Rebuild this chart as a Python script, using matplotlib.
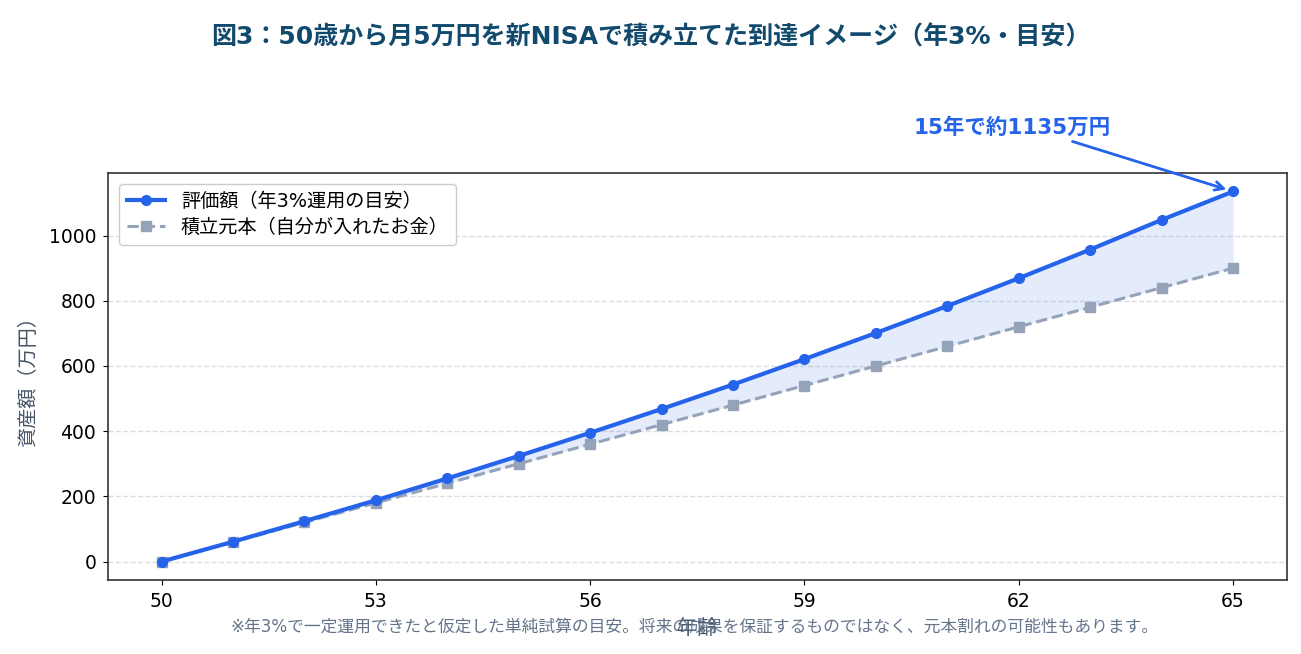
import matplotlib
matplotlib.use("Agg")
import matplotlib.pyplot as plt

# DejaVu for latin/digits (wide, like the reference), Noto CJK for Japanese
plt.rcParams['font.family'] = ['DejaVu Sans', 'Noto Sans CJK JP']

# data (万円)
ages = list(range(50, 66))
valuation = [0, 61, 124, 188, 255, 324, 395, 468, 543, 621, 701, 784, 869, 957, 1048, 1135]
principal = [0, 60, 120, 180, 240, 300, 360, 420, 480, 540, 600, 660, 720, 780, 840, 900]

blue = '#2563eb'
gray = '#94a3b8'

fig = plt.figure(figsize=(13.01, 6.54), dpi=100)
ax = fig.add_axes([0.083, 0.113, 0.906, 0.6225])

ax.fill_between(ages, principal, valuation, color=blue, alpha=0.12, linewidth=0)
ax.plot(ages, valuation, color=blue, lw=3, marker='o', ms=7, label='評価額（年3%運用の目安）', zorder=3)
ax.plot(ages, principal, color=gray, lw=2.2, ls='--', marker='s', ms=7, label='積立元本（自分が入れたお金）', zorder=2)

ax.set_xticks([50, 53, 56, 59, 62, 65])
ax.tick_params(labelsize=13.5, pad=5)
ax.grid(axis='y', ls='--', color='#d9dde3', lw=1)
ax.set_axisbelow(True)
for s in ax.spines.values():
    s.set_color('#333333')
    s.set_linewidth(1.2)

ax.set_ylabel('資産額（万円）', fontsize=14.5, color='#475569', labelpad=8)
ax.set_xlabel('年齢', fontsize=14.5, color='#475569', labelpad=6)

ax.legend(loc='upper left', fontsize=13.8, framealpha=1, edgecolor='#cccccc',
          borderaxespad=0.6, labelspacing=0.35)

ax.annotate('15年で約1135万円', xy=(65, valuation[-1]), xytext=(61.9, 1331),
            textcoords='data', ha='center', va='center', fontsize=15.5, fontweight='bold',
            color=blue, annotation_clip=False,
            arrowprops=dict(arrowstyle='->', color=blue, lw=2, relpos=(0.75, 0), shrinkB=5))

fig.suptitle('図3：50歳から月5万円を新NISAで積み立てた到達イメージ（年3%・目安）',
             fontsize=18, fontweight='bold', color='#124a6e', x=0.5, y=0.962)

fig.text(0.534, 0.041, '※年3%で一定運用できたと仮定した単純試算の目安。将来の成果を保証するものではなく、元本割れの可能性もあります。',
         ha='center', va='center', fontsize=12.1, color='#64748b')

fig.savefig('out.png', dpi=100)
